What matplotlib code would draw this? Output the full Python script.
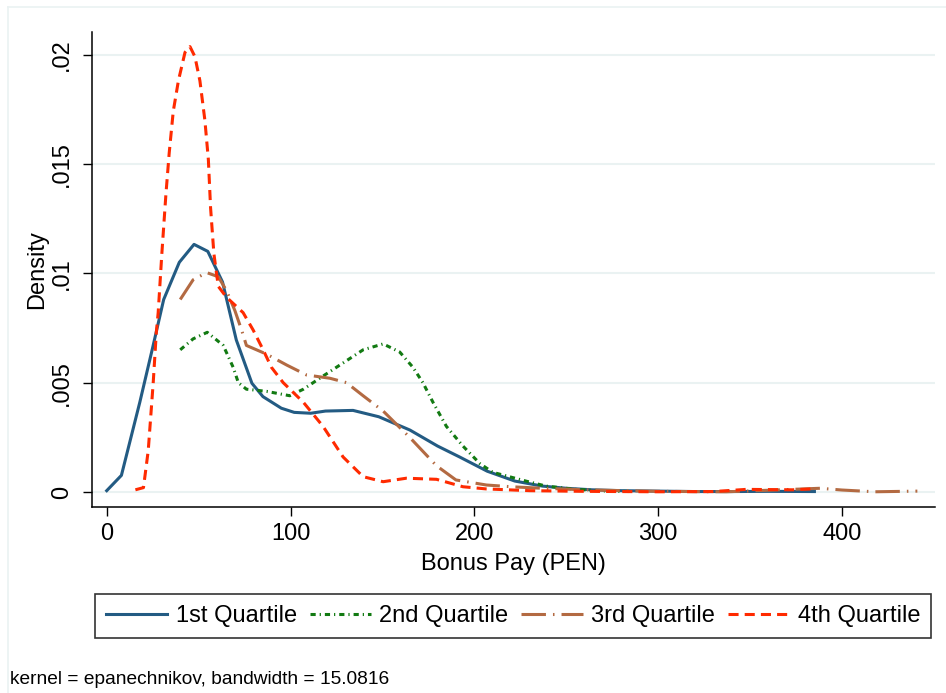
import matplotlib
matplotlib.use('Agg')
import matplotlib.pyplot as plt
from matplotlib.lines import Line2D

plt.rcParams['font.family'] = ['Liberation Sans', 'DejaVu Sans']

# kernel density curves (bonus pay in PEN, density)
q1_x = [0, 8, 18, 25, 31, 39.5, 47.5, 55, 63, 70.5, 79, 85, 95, 102, 111, 119, 134, 148,
        165, 180, 192, 207, 222, 237, 250, 264, 280, 300, 320, 340, 360, 385]
q1_y = [0.00006, 0.00076, 0.0041, 0.0066, 0.0088, 0.0105, 0.01132, 0.0110, 0.0096, 0.00695,
        0.00497, 0.00436, 0.00383, 0.00364, 0.0036, 0.0037, 0.00373, 0.00344, 0.00283, 0.0021,
        0.0016, 0.00095, 0.0005, 0.00027, 0.00017, 0.0001, 0.00006, 0.00004, 0.00002, 0.00002,
        0.00003, 0.00002]

q2_x = [40, 47, 54.7, 63.4, 68.8, 71.6, 76, 87, 99.6, 107, 117.7, 128.6, 139.5, 150.4, 159.4,
        166.6, 172, 177.5, 184.8, 193.8, 203, 210, 228, 239, 255, 270, 285]
q2_y = [0.0065, 0.0070, 0.0073, 0.0067, 0.0057, 0.0050, 0.0047, 0.0046, 0.0044, 0.0047, 0.0053,
        0.0059, 0.0065, 0.00677, 0.0064, 0.0057, 0.0050, 0.0041, 0.0030, 0.0021, 0.0013, 0.0009,
        0.0005, 0.00027, 0.00012, 0.00005, 0.00002]

q3_x = [40, 47, 54.4, 60.7, 65.2, 69.7, 73.4, 76, 87, 98, 108.7, 121.4, 130.4, 139.5, 150.4,
        164.8, 179.4, 190, 206.5, 220, 237, 264, 300, 337, 373, 388, 400, 418, 441]
q3_y = [0.0088, 0.0097, 0.01003, 0.00984, 0.0092, 0.0083, 0.0074, 0.0067, 0.0063, 0.0058,
        0.00535, 0.0052, 0.0050, 0.0044, 0.0037, 0.0025, 0.0012, 0.00055, 0.00032, 0.00024,
        0.00017, 0.00009, 0.00003, 0.00001, 0.00012, 0.00017, 0.00009, 0.00001, 0.00004]

q4_x = [15.6, 20, 22.6, 25.3, 27, 28, 30, 32.2, 34, 36.2, 39, 42.6, 45.3, 48, 50.7, 53.4, 55.3,
        56.5, 58.3, 60.7, 65.2, 74.2, 79.7, 85.1, 89.6, 96, 107, 117.7, 128.6, 139.5, 150.4, 163,
        179.4, 193.8, 206.5, 230, 260, 300, 330, 348, 373, 386]
q4_y = [0.0001, 0.0002, 0.0019, 0.0050, 0.0073, 0.0082, 0.0109, 0.0136, 0.0155, 0.0174, 0.0188,
        0.0201, 0.02036, 0.0199, 0.0188, 0.0170, 0.0152, 0.0130, 0.0109, 0.0094, 0.0089, 0.0082,
        0.0074, 0.0065, 0.0057, 0.0050, 0.0041, 0.0030, 0.0016, 0.0007, 0.00047, 0.00063,
        0.00058, 0.00024, 0.00014, 0.00006, 0.00003, 0.00001, 0.00002, 0.00012, 0.0001, 0.00015]

labels = ['1st Quartile', '2nd Quartile', '3rd Quartile', '4th Quartile']
x_ticks = [0, 100, 200, 300, 400]
y_ticks = [0, 0.005, 0.01, 0.015, 0.02]
y_tick_labels = ['0', '.005', '.01', '.015', '.02']

W, H = 946, 693
fig = plt.figure(figsize=(W / 100, H / 100), dpi=100)

# faint outer frame (only top and left edges visible)
frame_col = '#eaf2f2'
fig.add_artist(Line2D([8 / W, 8 / W], [0, 1 - 7 / H], color=frame_col, lw=1.2))
fig.add_artist(Line2D([8 / W, 1], [1 - 7 / H, 1 - 7 / H], color=frame_col, lw=1.2))

ax = fig.add_axes([92 / W, 1 - 507 / H, (935 - 92) / W, (507 - 32) / H])

lw = 2.2
ax.plot(q1_x, q1_y, color='#235b83', lw=lw, ls='-', label=labels[0])
ax.plot(q2_x, q2_y, color='#127a12', lw=lw, ls=(0, (1.7, 1.3, 0.4, 1.3)), label=labels[1])
ax.plot(q3_x, q3_y, color='#b36a42', lw=lw, ls=(0, (8, 2.3, 0.5, 2.3)), label=labels[2])
ax.plot(q4_x, q4_y, color='#ff2a00', lw=lw, ls=(0, (3.3, 2.0)), label=labels[3])

ax.set_xlim(-8.0, 450.6)
ax.set_ylim(-0.000686, 0.021029)
ax.set_xticks(x_ticks)
ax.set_yticks(y_ticks)
ax.set_yticklabels(y_tick_labels)
ax.grid(axis='y', color='#eaf2f2', lw=1.5)
ax.set_axisbelow(True)

for s in ['top', 'right']:
    ax.spines[s].set_visible(False)
for s in ['left', 'bottom']:
    ax.spines[s].set_linewidth(1.1)
fs = 17
ax.tick_params(direction='out', length=6.5, width=1.0, labelsize=fs, pad=5)
ax.tick_params(axis='y', labelrotation=90, pad=7)
for t in ax.get_yticklabels():
    t.set_va('center')

ax.set_xlabel('Bonus Pay (PEN)', fontsize=fs)
ax.xaxis.set_label_coords(0.5, -0.097)
ax.set_ylabel('Density', fontsize=fs)
ax.yaxis.set_label_coords(-0.052, 0.5)

leg = fig.legend(loc='center', ncol=4, fontsize=fs, frameon=True, fancybox=False,
                 bbox_to_anchor=(513 / W, 1 - 616 / H), handlelength=2.6,
                 handletextpad=0.35, columnspacing=0.55, borderpad=0.45, borderaxespad=0)
leg.get_frame().set_edgecolor('black')
leg.get_frame().set_linewidth(1.2)

fig.text(10 / W, 1 - 679 / H, 'kernel = epanechnikov, bandwidth = 15.0816',
         fontsize=13.8, ha='left', va='center')

fig.savefig('out.png', dpi=100)
